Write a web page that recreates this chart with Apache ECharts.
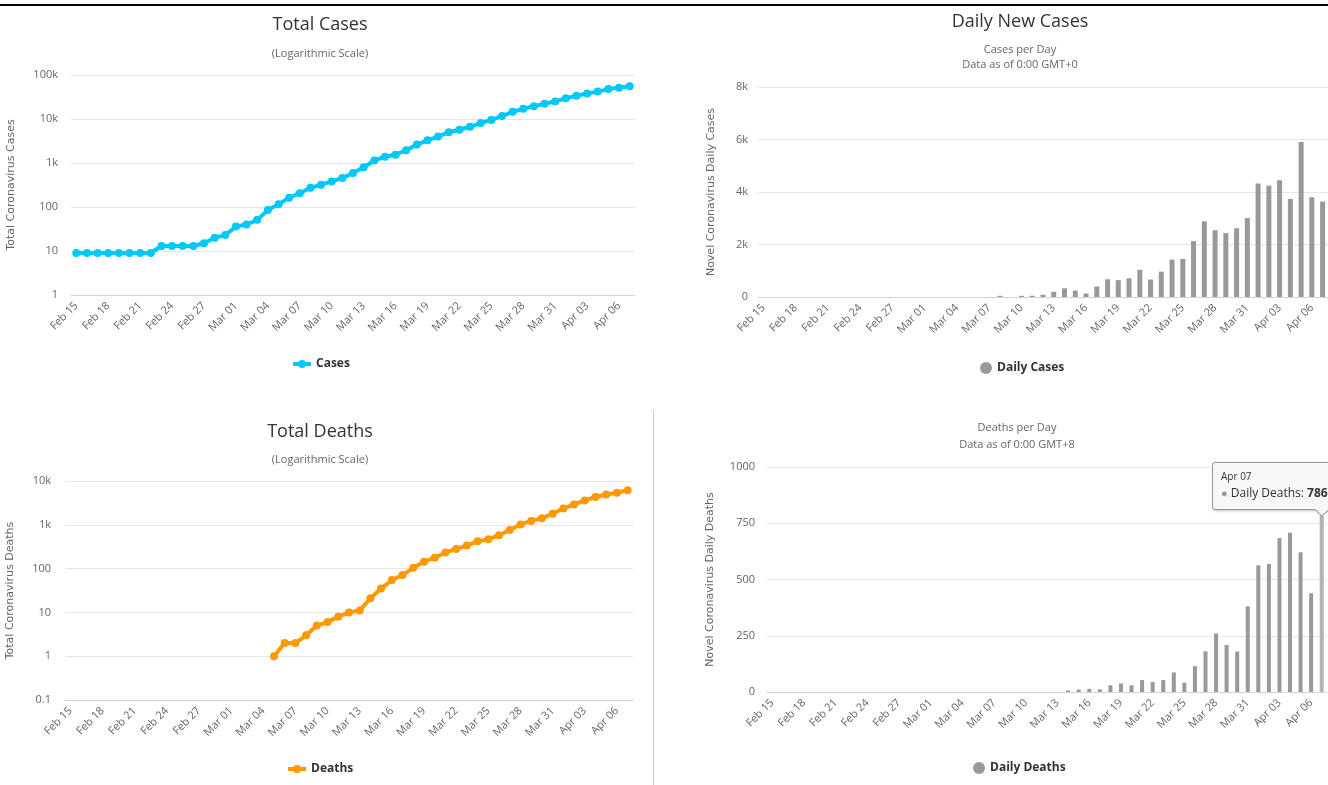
<!DOCTYPE html>
<html>
<head>
<meta charset="utf-8">
<title>Coronavirus - Cases and Deaths</title>
<script src="https://cdn.jsdelivr.net/npm/echarts@6/dist/echarts.min.js"></script>
<style>
  html, body { margin: 0; padding: 0; background: #fff; overflow: hidden; }
  #chart { width: 1328px; height: 785px; overflow: hidden; }
</style>
</head>
<body>
<div id="chart"></div>
<script>
// dates on the x axis (Feb 15 - Apr 07, 2020)
var dates = [
  'Feb 15', 'Feb 16', 'Feb 17', 'Feb 18', 'Feb 19', 'Feb 20', 'Feb 21', 'Feb 22', 'Feb 23', 'Feb 24',
  'Feb 25', 'Feb 26', 'Feb 27', 'Feb 28', 'Feb 29', 'Mar 01', 'Mar 02', 'Mar 03', 'Mar 04', 'Mar 05',
  'Mar 06', 'Mar 07', 'Mar 08', 'Mar 09', 'Mar 10', 'Mar 11', 'Mar 12', 'Mar 13', 'Mar 14', 'Mar 15',
  'Mar 16', 'Mar 17', 'Mar 18', 'Mar 19', 'Mar 20', 'Mar 21', 'Mar 22', 'Mar 23', 'Mar 24', 'Mar 25',
  'Mar 26', 'Mar 27', 'Mar 28', 'Mar 29', 'Mar 30', 'Mar 31', 'Apr 01', 'Apr 02', 'Apr 03', 'Apr 04',
  'Apr 05', 'Apr 06', 'Apr 07'
];

// total cases (log chart)
var totalCases = [
  9, 9, 9, 9, 9, 9, 9, 9, 13, 13,
  13, 13, 15, 20, 23, 36, 40, 51, 85, 115,
  163, 206, 273, 321, 382, 456, 590, 798, 1140, 1391,
  1543, 1950, 2626, 3269, 3983, 5018, 5683, 6650, 8077, 9529,
  11658, 14543, 17089, 19522, 22141, 25150, 29474, 33718, 38168, 41903,
  47806, 51608, 55242
];

// new cases per day
var dailyCases = [
  0, 0, 0, 0, 0, 0, 0, 0, 0, 0,
  0, 0, 0, 0, 0, 0, 0, 0, 0, 0,
  0, 0, 45, 0, 45, 48, 85, 200, 330, 245,
  135, 400, 676, 643, 714, 1035, 665, 967, 1427, 1452,
  2129, 2885, 2546, 2433, 2619, 3009, 4324, 4244, 4450, 3735,
  5903, 3802, 3634
];

// total deaths (log chart), nothing before Mar 05
var totalDeaths = [
  null, null, null, null, null, null, null, null, null, null,
  null, null, null, null, null, null, null, null, null, 1,
  2, 2, 3, 5, 6, 8, 10, 11, 21, 35,
  55, 71, 104, 144, 177, 233, 281, 335, 422, 465,
  578, 759, 1019, 1228, 1408, 1789, 2352, 2921, 3605, 4313,
  4934, 5373, 6159
];

// deaths per day
var dailyDeaths = [
  0, 0, 0, 0, 0, 0, 0, 0, 0, 0,
  0, 0, 0, 0, 0, 0, 0, 0, 0, 0,
  0, 0, 0, 0, 0, 0, 0, 0, 7, 11,
  14, 12, 30, 38, 30, 53, 45, 53, 87, 41,
  115, 181, 260, 209, 180, 381, 563, 569, 684, 708,
  621, 439, 786
];

var tipIndex = 52; // Apr 07, the hovered bar

var chart = echarts.init(document.getElementById('chart'));

// 1, 10, 100, 1k ...
function kFormat(v) {
  if (v >= 1000) return (v / 1000) + 'k';
  return String(Math.round(v * 10) / 10);
}

function catAxis(gridIndex) {
  return {
    type: 'category',
    gridIndex: gridIndex,
    data: dates,
    boundaryGap: true,
    axisLine: { lineStyle: { color: '#ccd6eb' } },
    axisTick: { show: false },
    axisLabel: { interval: 2, rotate: 45, margin: 9, color: '#666', fontSize: 11, fontFamily: 'Open Sans' },
    splitLine: { show: false }
  };
}

function valAxis(gridIndex, opt) {
  var axis = {
    gridIndex: gridIndex,
    nameLocation: 'middle',
    nameRotate: 90,
    nameTextStyle: { color: '#666', fontSize: 11, fontFamily: 'DejaVu Sans' },
    axisLine: { show: false },
    axisTick: { show: false },
    axisLabel: { formatter: kFormat, color: '#666', fontSize: 11, fontFamily: 'Open Sans' },
    splitLine: { lineStyle: { color: '#e6e6e6' } }
  };
  for (var k in opt) {
    if (k === 'margin') axis.axisLabel.margin = opt[k];
    else if (k === 'formatter') axis.axisLabel.formatter = opt[k];
    else axis[k] = opt[k];
  }
  return axis;
}

var titleFont = { fontSize: 18, fontWeight: 'normal', color: '#333', fontFamily: 'Open Sans' };
var subFont = { fontSize: 11, color: '#666', fontFamily: 'Open Sans', lineHeight: 15 };
var legendFont = { fontSize: 12, fontWeight: 'bold', color: '#333', fontFamily: 'Open Sans' };

chart.setOption({
  animation: false,
  title: [
    { text: 'Total Cases', subtext: '(Logarithmic Scale)', left: 320, top: 16, textAlign: 'center',
      padding: 0, itemGap: 12, textStyle: titleFont, subtextStyle: subFont },
    { text: 'Daily New Cases', subtext: 'Cases per Day\nData as of 0:00 GMT+0', left: 1020, top: 13, textAlign: 'center',
      padding: 0, itemGap: 11, textStyle: titleFont, subtextStyle: subFont },
    { text: 'Total Deaths', subtext: '(Logarithmic Scale)', left: 320, top: 423, textAlign: 'center',
      padding: 0, itemGap: 11, textStyle: titleFont, subtextStyle: subFont },
    { text: 'Deaths per Day\nData as of 0:00 GMT+8', left: 1017, top: 420, textAlign: 'center',
      padding: 0, textStyle: { fontSize: 11, fontWeight: 'normal', color: '#666', fontFamily: 'Open Sans', lineHeight: 16.5 } }
  ],
  legend: [
    { data: ['Cases'], left: 286, top: 353, itemWidth: 18, itemHeight: 10, itemGap: 5, textStyle: legendFont,
      lineStyle: { width: 4 } },
    { data: ['Daily Cases'], left: 975, top: 357, icon: 'circle', itemWidth: 12, itemHeight: 12, textStyle: legendFont },
    { data: ['Deaths'], left: 281, top: 758, itemWidth: 18, itemHeight: 10, itemGap: 5, textStyle: legendFont,
      lineStyle: { width: 4 } },
    { data: ['Daily Deaths'], left: 968, top: 757, icon: 'circle', itemWidth: 12, itemHeight: 12, textStyle: legendFont }
  ],
  grid: [
    { left: 71, right: 693, top: 75, bottom: 490 },
    { left: 758, right: -4, top: 87, bottom: 488 },
    { left: 65, right: 695, top: 481, bottom: 85 },
    { left: 767, right: 1, top: 467, bottom: 93 }
  ],
  xAxis: [catAxis(0), catAxis(1), catAxis(2), catAxis(3)],
  yAxis: [
    valAxis(0, { type: 'log', logBase: 10, min: 1, max: 100000, name: 'Total Coronavirus Cases', nameGap: 54, margin: 13 }),
    valAxis(1, { type: 'value', min: 0, max: 8000, interval: 2000, name: 'Novel Coronavirus Daily Cases', nameGap: 41, margin: 10 }),
    valAxis(2, { type: 'log', logBase: 10, min: 0.1, max: 10000, name: 'Total Coronavirus Deaths', nameGap: 49, margin: 14 }),
    valAxis(3, { type: 'value', min: 0, max: 1000, interval: 250, name: 'Novel Coronavirus Daily Deaths', nameGap: 51, margin: 12,
      formatter: function (v) { return String(v); } })
  ],
  tooltip: {
    trigger: 'item',
    triggerOn: 'none',
    alwaysShowContent: true,
    transitionDuration: 0,
    backgroundColor: '#f7f7f7',
    borderColor: '#999',
    borderWidth: 1,
    padding: [6, 8, 7, 8],
    textStyle: { color: '#333', fontFamily: 'Open Sans', fontSize: 12 },
    extraCssText: 'border-radius:3px; box-shadow:1px 1px 3px rgba(0,0,0,0.25);',
    position: function (point, params, dom, rect, size) {
      var p = chart.convertToPixel({ seriesIndex: params.seriesIndex }, [params.dataIndex, params.value]);
      return [p[0] - 110, p[1] - size.contentSize[1] - 5];
    },
    formatter: function (p) {
      return '<div style="font-size:10px;line-height:15px">' + p.name + '</div>' +
        '<div style="font-size:12px;line-height:18px"><span style="color:#999;font-size:11px">\u25CF</span> ' +
        p.seriesName + ': <b>' + p.value + '</b></div>' +
        '<div style="position:absolute;left:104px;bottom:-6px;width:9px;height:9px;background:#f7f7f7;' +
        'border-right:1px solid #999;border-bottom:1px solid #999;transform:rotate(45deg)"></div>';
    }
  },
  series: [
    {
      name: 'Cases', type: 'line', xAxisIndex: 0, yAxisIndex: 0, data: totalCases,
      color: '#00c8f8', lineStyle: { width: 4 }, symbol: 'circle', symbolSize: 8, showAllSymbol: true
    },
    {
      name: 'Daily Cases', type: 'bar', xAxisIndex: 1, yAxisIndex: 1, data: dailyCases,
      color: '#999', barWidth: 5
    },
    {
      name: 'Deaths', type: 'line', xAxisIndex: 2, yAxisIndex: 2, data: totalDeaths,
      color: '#ff9900', lineStyle: { width: 4 }, symbol: 'circle', symbolSize: 8, showAllSymbol: true
    },
    {
      name: 'Daily Deaths', type: 'bar', xAxisIndex: 3, yAxisIndex: 3, data: dailyDeaths,
      color: '#999', barWidth: 4, emphasis: { itemStyle: { color: '#b3b3b3' } }
    }
  ],
  graphic: [
    // black rule at the top of the page
    { type: 'rect', shape: { x: 0, y: 4, width: 1328, height: 2 }, style: { fill: '#000' }, silent: true },
    // separator between the two lower charts
    { type: 'line', shape: { x1: 653.5, y1: 410, x2: 653.5, y2: 785 }, style: { stroke: '#ccc', lineWidth: 1 }, silent: true }
  ]
});

chart.dispatchAction({ type: 'highlight', seriesIndex: 3, dataIndex: tipIndex });
chart.dispatchAction({ type: 'showTip', seriesIndex: 3, dataIndex: tipIndex });
</script>
</body>
</html>
